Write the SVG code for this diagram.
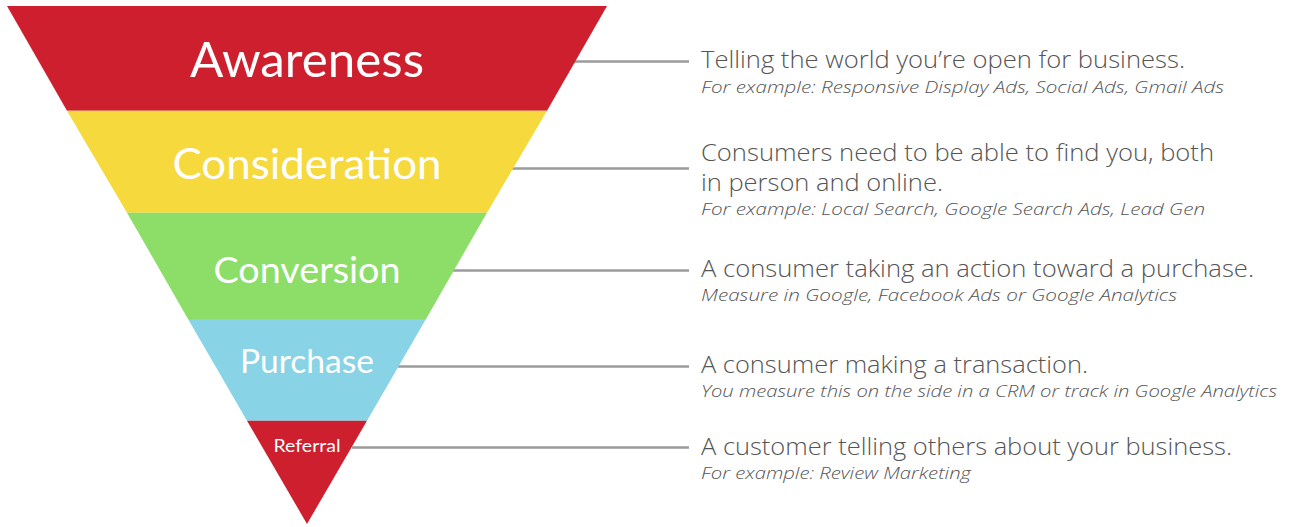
<svg xmlns="http://www.w3.org/2000/svg" width="1289" height="527" viewBox="0 0 1289 527">
<style>
.title{font-family:Lato,"Open Sans",sans-serif;fill:#fff;text-anchor:middle;font-weight:400}
.main{font-family:"Open Sans",Lato,sans-serif;font-weight:300;fill:#555;font-size:23px}
.sub{font-family:"Open Sans",Lato,sans-serif;font-weight:300;font-style:italic;fill:#555;font-size:17px}
.conn{stroke:#9b9b9b;stroke-width:2.5;fill:none}
</style>
<rect width="1289" height="527" fill="#fff"/>
<g id="connectors">
<line class="conn" x1="573" y1="61.5" x2="689" y2="61.5"/>
<line class="conn" x1="512" y1="168.5" x2="689" y2="168.5"/>
<line class="conn" x1="453" y1="270.5" x2="689" y2="270.5"/>
<line class="conn" x1="398" y1="366.5" x2="689" y2="366.5"/>
<line class="conn" x1="352" y1="447.5" x2="689" y2="447.5"/>
</g>
<g id="awareness">
<polygon points="7,6 607,6 547,110.7 67,110.7" fill="#ce1f2e"/>
<text class="title" x="307" y="77" font-size="49" textLength="234" lengthAdjust="spacingAndGlyphs">Awareness</text>
</g>
<g id="consideration">
<polygon points="67,110.7 547,110.7 487,212.7 127,212.7" fill="#f6d93c"/>
<text class="title" x="307" y="179" font-size="43" textLength="269" lengthAdjust="spacingAndGlyphs">Consideration</text>
</g>
<g id="conversion">
<polygon points="127,212.7 487,212.7 426,319 188,319" fill="#8cde68"/>
<text class="title" x="307" y="283" font-size="37" textLength="187" lengthAdjust="spacingAndGlyphs">Conversion</text>
</g>
<g id="purchase">
<polygon points="188,319 426,319 367,420.7 247,420.7" fill="#89d3e6"/>
<text class="title" x="307" y="373" font-size="32" textLength="134" lengthAdjust="spacingAndGlyphs">Purchase</text>
</g>
<g id="referral">
<polygon points="247,420.7 367,420.7 307,524" fill="#ce1f2e"/>
<text class="title" x="307" y="452" font-size="18" textLength="67" lengthAdjust="spacingAndGlyphs">Referral</text>
</g>
<g id="desc-awareness">
<text class="main" x="701" y="68" textLength="484" lengthAdjust="spacingAndGlyphs">Telling the world you’re open for business.</text>
<text class="sub" x="701" y="93" textLength="523" lengthAdjust="spacingAndGlyphs">For example: Responsive Display Ads, Social Ads, Gmail Ads</text>
</g>
<g id="desc-consideration">
<text class="main" x="701" y="161" textLength="513" lengthAdjust="spacingAndGlyphs">Consumers need to be able to find you, both</text>
<text class="main" x="701" y="190.5" textLength="242" lengthAdjust="spacingAndGlyphs">in person and online.</text>
<text class="sub" x="701" y="214.5" textLength="504" lengthAdjust="spacingAndGlyphs">For example: Local Search, Google Search Ads, Lead Gen</text>
</g>
<g id="desc-conversion">
<text class="main" x="701" y="276.5" textLength="553" lengthAdjust="spacingAndGlyphs">A consumer taking an action toward a purchase.</text>
<text class="sub" x="701" y="300.5" textLength="476" lengthAdjust="spacingAndGlyphs">Measure in Google, Facebook Ads or Google Analytics</text>
</g>
<g id="desc-purchase">
<text class="main" x="701" y="373" textLength="387" lengthAdjust="spacingAndGlyphs">A consumer making a transaction.</text>
<text class="sub" x="701" y="396.5" textLength="576" lengthAdjust="spacingAndGlyphs">You measure this on the side in a CRM or track in Google Analytics</text>
</g>
<g id="desc-referral">
<text class="main" x="701" y="455" textLength="531" lengthAdjust="spacingAndGlyphs">A customer telling others about your business.</text>
<text class="sub" x="701" y="478.5" textLength="270" lengthAdjust="spacingAndGlyphs">For example: Review Marketing</text>
</g>
</svg>
